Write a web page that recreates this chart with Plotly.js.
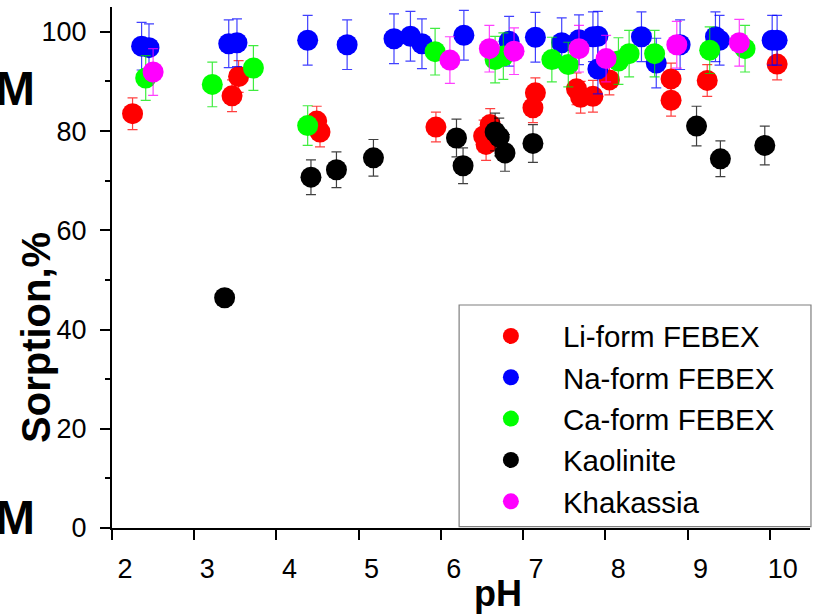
<!DOCTYPE html>
<html>
<head>
<meta charset="utf-8">
<script src="https://cdn.plot.ly/plotly-3.0.1.min.js"></script>
<style>html,body{margin:0;padding:0;background:#fff;}#chart{width:817px;height:616px;}</style>
</head>
<body>
<div id="chart"></div>
<script>
// Li-form FEBEX
const liPH   = [2.25, 3.46, 3.54, 4.49, 4.53, 5.94, 6.52, 6.60, 6.55, 7.12, 7.15, 7.65, 7.70, 7.85, 8.05, 8.80, 8.80, 9.24, 10.09];
const liSorp = [83.5, 87.1, 91.0, 82.0, 79.8, 80.8, 79.0, 81.3, 77.3, 84.7, 87.7, 88.5, 86.8, 87.0, 90.3, 90.5, 86.2, 90.2, 93.5];
const liErr  = [3.2, 3.2, 3.2, 3.0, 3.0, 3.0, 3.2, 3.2, 3.2, 3.0, 3.0, 3.2, 3.2, 3.2, 3.0, 3.2, 3.2, 3.2, 3.2];
// Na-form FEBEX
const naPH   = [2.36, 2.45, 3.42, 3.52, 4.38, 4.86, 5.43, 5.63, 5.77, 6.28, 6.83, 7.15, 7.47, 7.68, 7.85, 7.91, 7.91, 8.44, 8.62, 8.91, 9.34, 9.39, 10.03, 10.09];
const naSorp = [97.1, 96.8, 97.6, 97.8, 98.3, 97.4, 98.6, 99.1, 97.6, 99.3, 98.1, 98.9, 97.8, 98.4, 99.0, 99.1, 92.5, 99.0, 93.7, 97.4, 99.0, 98.3, 98.3, 98.3];
const naErr  = [4.8, 4.8, 4.8, 4.8, 5.0, 5.0, 5.0, 5.0, 5.0, 5.0, 5.0, 5.0, 5.0, 5.0, 5.0, 5.0, 5.0, 5.0, 5.0, 5.0, 5.0, 5.0, 5.0, 5.0];
// Ca-form FEBEX
const caPH   = [2.41, 3.22, 3.72, 4.38, 5.93, 6.66, 6.76, 7.35, 7.55, 8.16, 8.29, 8.60, 9.27, 9.70];
const caSorp = [90.7, 89.4, 92.7, 81.1, 96.0, 94.4, 95.1, 94.4, 93.4, 94.1, 95.6, 95.6, 96.3, 96.6];
const caErr  = [4.5, 4.5, 4.5, 4.0, 4.7, 4.7, 4.7, 4.5, 4.5, 4.7, 4.7, 4.7, 4.7, 4.7];
// Kaolinite
const kaPH   = [3.37, 4.42, 4.73, 5.18, 6.19, 6.27, 6.66, 6.71, 6.78, 7.12, 9.11, 9.40, 9.94];
const kaSorp = [46.4, 70.7, 72.2, 74.6, 78.6, 73.0, 79.8, 78.8, 75.6, 77.5, 81.0, 74.4, 77.1];
const kaErr  = [1.6, 3.5, 3.6, 3.7, 3.8, 3.6, 3.8, 3.8, 3.7, 3.8, 4.0, 3.6, 3.9];
// Khakassia
const khPH   = [2.50, 6.11, 6.59, 6.89, 7.68, 8.01, 8.87, 9.63];
const khSorp = [91.9, 94.3, 96.6, 96.1, 96.6, 94.6, 97.4, 97.8];
const khErr  = [4.7, 4.7, 4.7, 4.7, 4.7, 4.7, 4.7, 4.7];

const seriesNames = ['Li-form FEBEX', 'Na-form FEBEX', 'Ca-form FEBEX', 'Kaolinite', 'Khakassia'];
const xTickVals = [2, 3, 4, 5, 6, 7, 8, 9, 10];
const yTickVals = [0, 20, 40, 60, 80, 100];
const xTitle = 'pH';
const yTitle = 'Sorption,%';
const sideMark = 'M';

function mk(name, x, y, err, color, errColor) {
  return {
    type: 'scatter', mode: 'markers', name: name, x: x, y: y,
    marker: {color: color, size: 21, line: {width: 0}},
    error_y: {type: 'data', array: err, visible: true, color: errColor, thickness: 1.2, width: 5},
    cliponaxis: false
  };
}
const data = [
  mk(seriesNames[0], liPH, liSorp, liErr, '#ff0000', 'rgba(255,0,0,0.75)'),
  mk(seriesNames[1], naPH, naSorp, naErr, '#0000ff', 'rgba(0,0,255,0.75)'),
  mk(seriesNames[2], caPH, caSorp, caErr, '#00ff00', 'rgba(0,230,0,0.75)'),
  mk(seriesNames[3], kaPH, kaSorp, kaErr, '#000000', 'rgba(0,0,0,0.75)'),
  mk(seriesNames[4], khPH, khSorp, khErr, '#ff00ff', 'rgba(255,0,255,0.75)')
];
const font = 'Liberation Sans, Arial, sans-serif';
const layout = {
  width: 817, height: 616,
  margin: {l: 112, r: 7, t: 7, b: 88, pad: 0},
  paper_bgcolor: '#ffffff', plot_bgcolor: '#ffffff',
  showlegend: true,
  font: {family: font, color: '#000000'},
  xaxis: {
    range: [2, 10.49], tickvals: xTickVals, ticktext: xTickVals.map(String),
    showgrid: false, zeroline: false, showline: true, linecolor: '#000', linewidth: 2,
    ticks: 'outside', ticklen: 10, tickwidth: 2, tickcolor: '#000',
    tickfont: {family: font, size: 27, color: '#000'}, ticklabelshift: 13, ticklabelstandoff: 6
  },
  yaxis: {
    range: [0, 105], tickvals: yTickVals, ticktext: yTickVals.map(String),
    showgrid: false, zeroline: false, showline: true, linecolor: '#000', linewidth: 2,
    ticks: 'outside', ticklen: 10, tickwidth: 2, tickcolor: '#000',
    tickfont: {family: font, size: 27, color: '#000'}, ticklabelstandoff: 8,
    minor: {tickvals: [10, 30, 50, 70, 90], ticks: 'outside', ticklen: 5, tickwidth: 2, tickcolor: '#000', showgrid: false}
  },
  legend: {
    x: 0.497, y: 0.418, xanchor: 'left', yanchor: 'top',
    bgcolor: 'rgba(0,0,0,0)', borderwidth: 0,
    font: {family: font, size: 29.5, color: '#000'},
    itemwidth: 94, tracegroupgap: 0
  },
  shapes: [{
    type: 'rect', xref: 'paper', yref: 'paper', x0: 0.4973, x1: 1.0014, y0: 0.0025, y1: 0.428,
    line: {color: '#7f7f7f', width: 1.2}, fillcolor: '#ffffff', layer: 'below'
  }],
  annotations: [
    {text: '<b>' + xTitle + '</b>', xref: 'paper', yref: 'paper', x: 0.5524, y: -0.126, xanchor: 'center', yanchor: 'middle', showarrow: false, font: {family: font, size: 36, color: '#000'}},
    {text: '<b>' + yTitle + '</b>', xref: 'paper', yref: 'paper', x: -0.108, y: 0.366, xanchor: 'center', yanchor: 'middle', textangle: -90, showarrow: false, font: {family: font, size: 40, color: '#000'}},
    {text: '<b>' + sideMark + '</b>', xref: 'paper', yref: 'paper', x: -0.108, y: 0.8431, xanchor: 'right', yanchor: 'middle', showarrow: false, font: {family: font, size: 48, color: '#000'}},
    {text: '<b>' + sideMark + '</b>', xref: 'paper', yref: 'paper', x: -0.108, y: 0.0194, xanchor: 'right', yanchor: 'middle', showarrow: false, font: {family: font, size: 48, color: '#000'}}
  ]
};
Plotly.newPlot('chart', data, layout, {displayModeBar: false, staticPlot: true});
</script>
</body>
</html>
